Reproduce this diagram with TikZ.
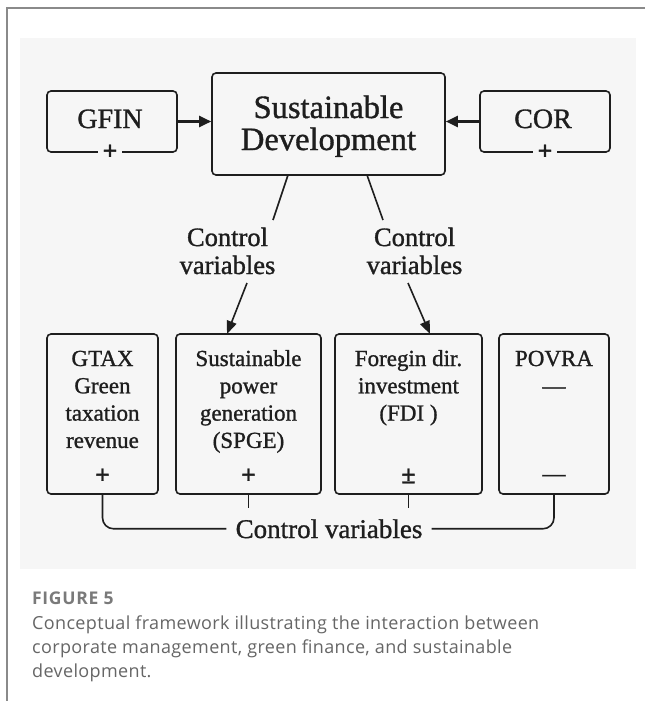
\documentclass[tikz,border=0pt]{standalone}
\usepackage{fontspec}
\setmainfont{Liberation Serif}[FakeBold=1.1]
\newfontfamily\capfont{Open Sans}[LetterSpace=2]
\newfontfamily\figfont{Open Sans}[LetterSpace=4]
\usetikzlibrary{arrows.meta}
\definecolor{panel}{HTML}{F6F6F6}
\definecolor{ink}{HTML}{1E1E1E}
\definecolor{capgray}{HTML}{666666}
\definecolor{figgray}{HTML}{7A7A7A}
\definecolor{framegray}{HTML}{8A8A8A}
\newcommand\stk[1]{\begin{tabular}[t]{@{}c@{}}#1\end{tabular}}
\newcommand\stkl[1]{\begin{tabular}[t]{@{}l@{}}#1\end{tabular}}
\begin{document}
\begin{tikzpicture}[x=1pt,y=-1pt,
 box/.style={draw=ink, line width=1.6pt, rounded corners=4pt, inner sep=0pt},
 txt/.style={inner sep=0pt, anchor=base, text=ink},
 bigtxt/.style={txt, font=\fontsize{32.5}{31.5}\selectfont},
 midtxt/.style={txt, font=\fontsize{28}{28}\selectfont},
 lbltxt/.style={txt, font=\fontsize{26.5}{28}\selectfont},
 smalltxt/.style={txt, font=\fontsize{23}{27.3}\selectfont},
 sign/.style={inner sep=0pt, text=ink, font=\bfseries\fontsize{26}{26}\selectfont},
 gapsign/.style={sign, fill=panel, inner xsep=5pt},
 conn/.style={draw=ink, line width=1.6pt},
 harr/.style={draw=ink, line width=2.4pt, -{Triangle[length=12pt,width=11pt]}},
 darr/.style={conn, -{Triangle[length=13pt,width=10pt]}},
]
\useasboundingbox (0,0) rectangle (645,701);
\fill[white] (0,0) rectangle (645,701);
\fill[panel] (20,38) rectangle (636,569);
\draw[framegray, line width=1.5pt] (7,701) -- (7,8) -- (645,8);

% top row boxes
\node[box, minimum width=130pt, minimum height=61pt] (gfin) at (112,121.5) {};
\node[box, minimum width=233pt, minimum height=102pt] (sd) at (328.5,124) {};
\node[box, minimum width=130pt, minimum height=61pt] (cor) at (545,121.5) {};

\node[midtxt] (gfint) at (110,128) {GFIN};
\node[midtxt] (cort) at (543,128) {COR};
\node[bigtxt] (sdt) at (328.5,118) {\stk{Sustainable\\Development}};
\node[gapsign] (gfins) at (110,152) {+};
\node[gapsign] (cors) at (545,152) {+};

\draw[harr] (gfin.east) -- (gfin.east -| sd.west);
\draw[harr] (cor.west) -- (cor.west -| sd.east);

% control labels
\node[lbltxt] (cvl) at (227.5,246) {\stk{Control\\variables}};
\node[lbltxt] (cvr) at (414.5,246) {\stk{Control\\variables}};

% bottom boxes
\node[box, minimum width=111pt, minimum height=160pt] (b1) at (102.5,414) {};
\node[box, minimum width=145pt, minimum height=160pt] (b2) at (248.5,414) {};
\node[box, minimum width=147pt, minimum height=160pt] (b3) at (408.5,414) {};
\node[box, minimum width=110pt, minimum height=160pt] (b4) at (554,414) {};

\node[smalltxt] (b1t) at (102.5,366) {\stk{GTAX\\Green\\taxation\\revenue}};
\node[smalltxt] (b2t) at (248.5,366) {\stk{Sustainable\\power\\generation\\(SPGE)}};
\node[smalltxt] (b3t) at (408.5,366) {\stk{Foregin dir.\\investment\\(FDI\ )}};
\node[smalltxt] (b4t) at (554,366) {\stk{POVRA\\—}};
\node[sign] (b1s) at (102.5,476) {+};
\node[sign] (b2s) at (248.5,476) {+};
\node[sign] (b3s) at (408.5,476) {±};
\node[smalltxt] (b4s) at (554,481) {—};

% connectors from SD
\coordinate (sdl) at (288,175);
\coordinate (sdr) at (367,175);
\coordinate (cl1) at (273,220);
\coordinate (cr1) at (383,220);
\draw[conn] (sdl) -- (cl1);
\draw[conn] (sdr) -- (cr1);
\coordinate (al) at (247,283);
\coordinate (ar) at (408,283);
\coordinate (alt) at (227,334);
\coordinate (art) at (430,334);
\draw[darr] (al) -- (alt);
\draw[darr] (ar) -- (art);

% bottom bracket
\node[txt, font=\fontsize{27}{27}\selectfont, inner xsep=9pt] (cvb) at (329,538) {Control variables};
\draw[conn, rounded corners=11pt] (b1.south) |- (cvb.west);
\draw[conn, rounded corners=11pt] (cvb.east) -| (b4.south);
\coordinate (t2) at (248.5,508);
\coordinate (t3) at (408.5,508);
\draw[conn] (b2.south) -- (t2);
\draw[conn] (b3.south) -- (t3);

% caption
\node[inner sep=0pt, anchor=base west, text=figgray, font=\figfont\bfseries\fontsize{17.5}{17.5}\selectfont] (fig) at (32,604) {FIGURE 5};
\node[inner sep=0pt, anchor=base west, text=capgray, font=\capfont\fontsize{18}{24}\selectfont] (cap) at (32,629) {\stkl{Conceptual framework illustrating the interaction between\\corporate management, green finance, and sustainable\\development.}};
\end{tikzpicture}
\end{document}
